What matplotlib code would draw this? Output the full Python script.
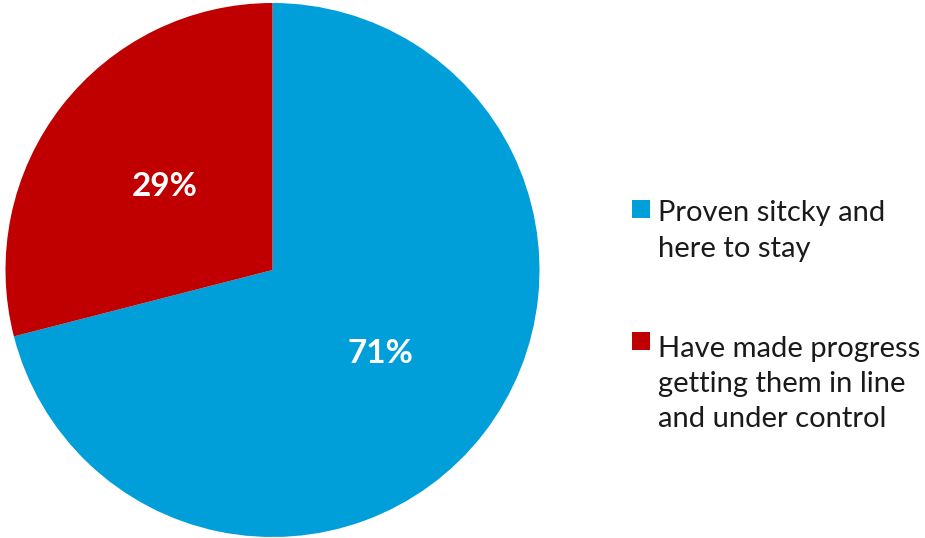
import matplotlib.pyplot as plt
from matplotlib.patches import Rectangle

labels = ["Proven sitcky and\nhere to stay", "Have made progress\ngetting them in line\nand under control"]
values = [71, 29]
colors = ["#009FDA", "#C00000"]

plt.rcParams['font.family'] = ['Lato', 'DejaVu Sans']

W, H = 925, 538
fig = plt.figure(figsize=(W/100, H/100), dpi=100)
ax = fig.add_axes([5/W, 1/H, 535/W, 534/H])
wedges, texts, autotexts = ax.pie(values, colors=colors, startangle=90, counterclock=False,
                                  autopct='%1.0f%%', pctdistance=0.51,
                                  textprops=dict(color='white', fontsize=24, fontweight='bold'))
ax.set_xlim(-1, 1)
ax.set_ylim(-1, 1)
ax.set_aspect('equal')

# legend: square aligned with first line of each label
first_baselines = [218, 350]
line_step = 38.5
for lab, col, yb in zip(labels, colors, first_baselines):
    n = lab.count('\n')
    fig.patches.append(Rectangle((632/W, 1 - yb/H), 18/W, 18/H, transform=fig.transFigure,
                                 facecolor=col, edgecolor='none'))
    fig.text(658/W, 1 - (yb + n * line_step)/H, lab, fontsize=21, color='#1a1a1a',
             va='baseline', ha='left', linespacing=1.43)

fig.savefig('out.png', dpi=100)
